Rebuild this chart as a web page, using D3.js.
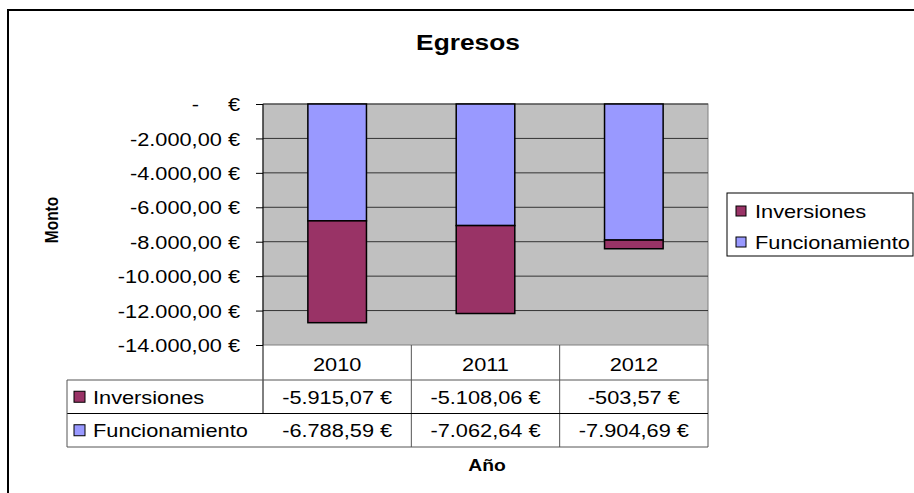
<!DOCTYPE html>
<html>
<head>
<meta charset="utf-8">
<script src="https://cdn.jsdelivr.net/npm/d3@7"></script>
<style>
  body { margin: 0; background: #fff; }
  text { font-family: "Liberation Sans", Arial, sans-serif; fill: #000; }
</style>
</head>
<body>
<div id="chart"></div>
<script>
const years = ["2010", "2011", "2012"];
const inversiones = [-5915.07, -5108.06, -503.57];
const funcionamiento = [-6788.59, -7062.64, -7904.69];
const yTicks = [0, -2000, -4000, -6000, -8000, -10000, -12000, -14000];

const width = 914, height = 493;
const plot = { left: 263, top: 104, right: 708, bottom: 345 };
const rowH = 33.5;
const sx = 1.17; // the picture's text is a bit wide

const locale = d3.formatLocale({ decimal: ",", thousands: ".", grouping: [3], currency: ["", " €"], minus: "-" });
const euro = locale.format(",.2f");
const fmt = v => euro(v) + " €";

const svg = d3.select("#chart").append("svg")
    .attr("width", width)
    .attr("height", height);

svg.append("rect").attr("width", width).attr("height", height).attr("fill", "#fff");

// outer chart border
svg.append("rect")
    .attr("x", 8).attr("y", 10)
    .attr("width", 920).attr("height", 500)
    .attr("fill", "none").attr("stroke", "#000").attr("stroke-width", 2);

function stretch(sel) {
    sel.each(function() {
        const t = d3.select(this);
        const x = +t.attr("x") || 0, y = +t.attr("y") || 0;
        t.attr("x", 0).attr("y", 0)
            .attr("transform", `translate(${x},${y}) scale(${sx},1)`);
    });
}

const x = d3.scaleBand().domain(years).range([plot.left, plot.right]).padding(0);
const y = d3.scaleLinear().domain([-14000, 0]).range([plot.bottom, plot.top]);
const barW = x.bandwidth() * 0.395;

// plot area
svg.append("rect")
    .attr("x", plot.left).attr("y", plot.top)
    .attr("width", plot.right - plot.left).attr("height", plot.bottom - plot.top)
    .attr("fill", "#c0c0c0").attr("stroke", "#808080");

svg.append("g").selectAll("line")
    .data(yTicks.filter(d => d > -14000))
    .join("line")
    .attr("x1", plot.left).attr("x2", plot.right)
    .attr("y1", d => y(d)).attr("y2", d => y(d))
    .attr("stroke", "#333").attr("stroke-width", 1);

// stacked bars
const stackData = years.map((yr, i) => ({ year: yr, funcionamiento: funcionamiento[i], inversiones: inversiones[i] }));
const series = d3.stack().keys(["funcionamiento", "inversiones"]).offset(d3.stackOffsetDiverging)(stackData);
const colors = { inversiones: "#993366", funcionamiento: "#9999ff" };

svg.append("g").selectAll("g")
    .data(series)
    .join("g")
    .attr("fill", d => colors[d.key])
    .selectAll("rect")
    .data(d => d)
    .join("rect")
    .attr("x", d => x(d.data.year) + (x.bandwidth() - barW) / 2)
    .attr("y", d => Math.min(y(d[0]), y(d[1])))
    .attr("width", barW)
    .attr("height", d => Math.abs(y(d[1]) - y(d[0])))
    .attr("stroke", "#000").attr("stroke-width", 1.5);

// y axis
const yAxis = svg.append("g")
    .attr("transform", `translate(${plot.left},0)`)
    .call(d3.axisLeft(y).tickValues(yTicks).tickSize(7).tickPadding(16).tickFormat(fmt));
yAxis.select(".domain").remove();
yAxis.selectAll(".tick line").attr("stroke", "#000");
yAxis.selectAll(".tick text")
    .attr("font-size", 18.6).attr("fill", "#000")
    .attr("dy", "0.36em")
    .text(d => d === 0 ? "€" : fmt(d));
yAxis.selectAll(".tick").filter(d => d === 0).append("text")
    .attr("x", -64).attr("dy", "0.36em")
    .attr("font-size", 18.6).attr("text-anchor", "end").attr("fill", "#000")
    .text("-");
stretch(yAxis.selectAll(".tick text"));

svg.append("line")
    .attr("x1", plot.left).attr("x2", plot.left)
    .attr("y1", plot.top).attr("y2", plot.bottom + 1 + 2 * rowH + 1)
    .attr("stroke", "#000");

// data table
const tTop = plot.bottom;
const hdrBottom = tTop + 35;
const tLeft = 67;
const tBottom = hdrBottom + 2 * rowH;
const rows = [
    { name: "Inversiones", values: inversiones, color: colors.inversiones },
    { name: "Funcionamiento", values: funcionamiento, color: colors.funcionamiento }
];

const table = svg.append("g");
// header column dividers
years.forEach(yr => {
    table.append("line")
        .attr("x1", x(yr) + x.bandwidth()).attr("x2", x(yr) + x.bandwidth())
        .attr("y1", tTop).attr("y2", tBottom)
        .attr("stroke", "#555");
});
table.append("line").attr("x1", tLeft).attr("x2", plot.right)
    .attr("y1", hdrBottom).attr("y2", hdrBottom).attr("stroke", "#555");
table.append("line").attr("x1", tLeft).attr("x2", plot.right)
    .attr("y1", hdrBottom + rowH).attr("y2", hdrBottom + rowH).attr("stroke", "#000");
table.append("line").attr("x1", tLeft).attr("x2", plot.right)
    .attr("y1", tBottom).attr("y2", tBottom).attr("stroke", "#555");
table.append("line").attr("x1", tLeft).attr("x2", tLeft)
    .attr("y1", hdrBottom).attr("y2", tBottom).attr("stroke", "#555");

table.selectAll(".yr")
    .data(years)
    .join("text")
    .attr("class", "yr")
    .attr("x", d => x(d) + x.bandwidth() / 2)
    .attr("y", tTop + 25.5)
    .attr("text-anchor", "middle").attr("font-size", 18.6)
    .text(d => d);

rows.forEach((r, ri) => {
    const rowTop = hdrBottom + ri * rowH;
    table.append("rect")
        .attr("x", 74).attr("y", rowTop + rowH / 2 - 5.5)
        .attr("width", 11).attr("height", 11)
        .attr("fill", r.color).attr("stroke", "#000");
    table.append("text")
        .attr("x", 93).attr("y", rowTop + rowH / 2 + 7)
        .attr("font-size", 18.6)
        .text(r.name);
    table.selectAll(null)
        .data(r.values)
        .join("text")
        .attr("x", (d, i) => x(years[i]) + x.bandwidth() / 2)
        .attr("y", rowTop + rowH / 2 + 7)
        .attr("text-anchor", "middle").attr("font-size", 18.6)
        .text(d => fmt(d));
});
stretch(table.selectAll("text"));

// legend
const legend = svg.append("g");
legend.append("rect")
    .attr("x", 727).attr("y", 193)
    .attr("width", 186).attr("height", 63)
    .attr("fill", "#fff").attr("stroke", "#000");
rows.forEach((r, i) => {
    legend.append("rect")
        .attr("x", 736).attr("y", 206 + i * 31)
        .attr("width", 10).attr("height", 10)
        .attr("fill", r.color).attr("stroke", "#000");
    legend.append("text")
        .attr("x", 755).attr("y", 217.5 + i * 31)
        .attr("font-size", 18.6)
        .text(r.name);
});
stretch(legend.selectAll("text"));

// titles
const titles = svg.append("g");
titles.append("text")
    .attr("x", 468).attr("y", 50)
    .attr("text-anchor", "middle").attr("font-size", 22.5).attr("font-weight", "bold")
    .text("Egresos");
titles.append("text")
    .attr("x", 487).attr("y", 471)
    .attr("text-anchor", "middle").attr("font-size", 16.5).attr("font-weight", "bold")
    .text("Año");
stretch(titles.selectAll("text"));

svg.append("text")
    .attr("transform", "translate(58,220) rotate(-90) scale(1,1.17)")
    .attr("text-anchor", "middle").attr("font-size", 15.5).attr("font-weight", "bold")
    .text("Monto");
</script>
</body>
</html>
